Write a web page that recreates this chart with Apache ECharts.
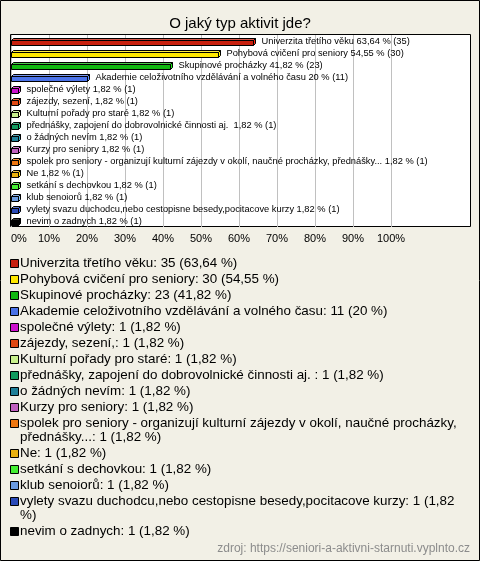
<!DOCTYPE html>
<html><head><meta charset="utf-8">
<script src="https://cdn.jsdelivr.net/npm/echarts@6/dist/echarts.min.js"></script>
<style>html,body{margin:0;padding:0;background:#f2f0e6}#c{width:480px;height:561px}</style>
</head><body><div id="c"></div><script>
const titleText = 'O jaký typ aktivit jde?';
const sourceText = 'zdroj: https://seniori-a-aktivni-starnuti.vyplnto.cz';
const categories = [
  'Univerzita třetího věku',
  'Pohybová cvičení pro seniory',
  'Skupinové procházky',
  'Akademie celoživotního vzdělávání a volného času',
  'společné výlety',
  'zájezdy, sezení,',
  'Kulturní pořady pro staré',
  'přednášky, zapojení do dobrovolnické činnosti aj. ',
  'o žádných nevím',
  'Kurzy pro seniory',
  'spolek pro seniory - organizují kulturní zájezdy v okolí, naučné procházky, přednášky...',
  'Ne',
  'setkání s dechovkou',
  'klub senoiorů',
  'vylety svazu duchodcu,nebo cestopisne besedy,pocitacove kurzy',
  'nevim o zadnych'
];
const counts = [35, 30, 23, 11, 1, 1, 1, 1, 1, 1, 1, 1, 1, 1, 1, 1];
const percents = [63.64, 54.55, 41.82, 20, 1.82, 1.82, 1.82, 1.82, 1.82, 1.82, 1.82, 1.82, 1.82, 1.82, 1.82, 1.82];
const colors = ['#c8200e', '#ffe800', '#10b810', '#4a72e8', '#cc11cc', '#e04812', '#c8f08c', '#119a5e',
  '#1f7f98', '#c060c0', '#ee7711', '#e8b010', '#44ee33', '#6a9ae0', '#2a4ab8', '#000000'];
const xTickValues = [0, 10, 20, 30, 40, 50, 60, 70, 80, 90, 100];

const FONT = '"Liberation Sans", Arial, sans-serif';
const LEG_FONT = '13.4px ' + FONT;
const fmt = p => String(p).replace('.', ',');
const barLabels = categories.map((c, i) => c + ' ' + fmt(percents[i]) + ' % (' + counts[i] + ')');
const legendLabels = categories.map((c, i) => c + ': ' + counts[i] + ' (' + fmt(percents[i]) + ' %)');

// word wrap for legend
const cv = document.createElement('canvas').getContext('2d');
cv.font = LEG_FONT;
function wrap(text, maxW) {
  const words = text.split(' ');
  const lines = []; let cur = '';
  words.forEach(w => {
    const t = cur === '' ? w : cur + ' ' + w;
    if (cv.measureText(t).width > maxW && cur !== '') { lines.push(cur); cur = w; }
    else cur = t;
  });
  lines.push(cur);
  return lines;
}

const legendEls = [];
let ly = 256;
legendLabels.forEach((t, i) => {
  const lines = wrap(t, 445);
  legendEls.push({ type: 'rect', shape: { x: 10.5, y: ly + 3.5, width: 8, height: 8 },
    style: { fill: colors[i], stroke: '#000', lineWidth: 1 } });
  legendEls.push({ type: 'text', x: 20, y: ly,
    style: { text: lines.join('\n'), font: LEG_FONT, fill: '#000', verticalAlign: 'top', lineHeight: 14 } });
  ly += lines.length * 14 + 2;
});

const chart = echarts.init(document.getElementById('c'));
chart.setOption({
  backgroundColor: '#f2f0e6',
  animation: false,
  title: { text: titleText, left: 'center', top: 11,
    textStyle: { fontSize: 15, fontWeight: 'normal', color: '#000', fontFamily: FONT } },
  grid: { left: 11, top: 35, width: 380, height: 192, containLabel: false },
  xAxis: { type: 'value', min: 0, max: 100, interval: 10,
    axisLine: { show: false }, axisTick: { show: false },
    splitLine: { show: true, lineStyle: { color: '#c0c0c0', width: 1 } },
    axisLabel: { formatter: v => xTickValues.includes(v) ? v + '%' : '', fontSize: 11, color: '#000', fontFamily: FONT, margin: 6, alignMinLabel: 'left' } },
  yAxis: { type: 'category', data: categories, inverse: true, show: false },
  graphic: [
    { type: 'rect', z: -10, shape: { x: 0.5, y: 0.5, width: 479, height: 560 }, style: { fill: '#f2f0e6', stroke: '#000', lineWidth: 1 } },
    { type: 'rect', z: -5, shape: { x: 10.5, y: 34.5, width: 460, height: 192 }, style: { fill: '#fff', stroke: '#000', lineWidth: 1 } },
    ...legendEls,
    { type: 'text', right: 10, top: 543, style: { text: sourceText, font: '12px ' + FONT, fill: '#8c8c8c' } }
  ],
  series: [{
    type: 'custom',
    coordinateSystem: 'cartesian2d',
    encode: { x: 0, y: 1 },
    data: percents.map((p, i) => [p, i]),
    renderItem: (params, api) => {
      const i = params.dataIndex;
      const s = api.coord([0, api.value(1)]);
      const e = api.coord([api.value(0), api.value(1)]);
      const h = 5, d = 2;
      const x0 = Math.round(s[0]) + 0.5, x1 = Math.round(e[0]) + 0.5;
      const y0 = Math.round(e[1] - h / 2 + d / 2) + 0.5, y1 = y0 + h;
      const c = colors[i];
      const top = echarts.color.lift(c, 0.25), side = echarts.color.lift(c, -0.3);
      return { type: 'group', children: [
        { type: 'polygon', shape: { points: [[x0, y0], [x0 + d, y0 - d], [x1 + d, y0 - d], [x1, y0]] }, style: { fill: top, stroke: '#000', lineWidth: 1 } },
        { type: 'polygon', shape: { points: [[x1, y0], [x1 + d, y0 - d], [x1 + d, y1 - d], [x1, y1]] }, style: { fill: side, stroke: '#000', lineWidth: 1 } },
        { type: 'rect', shape: { x: x0, y: y0, width: x1 - x0, height: h }, style: { fill: c, stroke: '#000', lineWidth: 1 } },
        { type: 'text', x: x1 + d + 6, y: e[1], style: { text: barLabels[i], font: '9.3px ' + FONT, fill: '#000', verticalAlign: 'middle' } }
      ] };
    }
  }]
});
</script></body></html>
